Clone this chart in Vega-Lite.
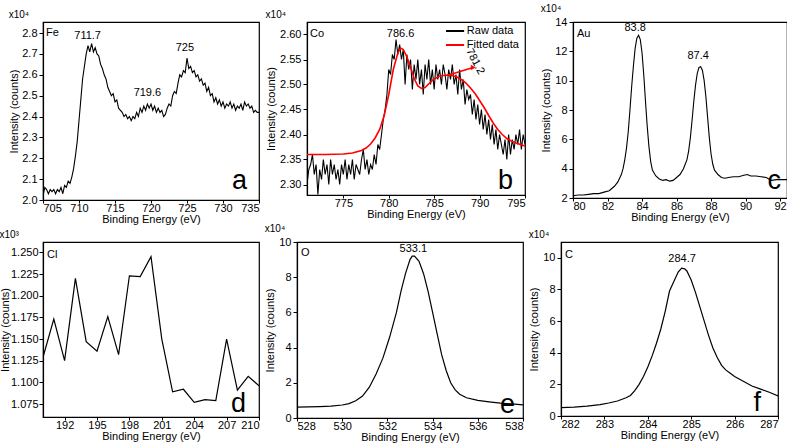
{
"$schema":"https://vega.github.io/schema/vega-lite/v6.json",
"autosize":{"type":"pad"},
"padding":{"left":-2,"top":3,"right":0,"bottom":0},
"background":"white",
"config":{
 "font":"Liberation Sans",
 "view":{"stroke":"black","strokeWidth":1.2},
 "axis":{"grid":false,"labelOverlap":false,"tickCount":30,"domainColor":"black","domainWidth":1.2,"tickColor":"black","tickSize":4,"labelColor":"black","titleColor":"black","labelFont":"Liberation Sans","titleFont":"Liberation Sans","labelFontSize":11,"titleFontSize":11,"titleFontWeight":"normal","labelPadding":2,"titlePadding":3},
 "axisX":{"tickSize":3,"labelPadding":-1,"titlePadding":0},
 "title":{"fontSize":10,"fontWeight":"normal","anchor":"start","font":"Liberation Sans","offset":2,"color":"black"},
 "text":{"font":"Liberation Sans","color":"black"}
},
"datasets":{
"fe":[{"x":705.00,"y":2.02},{"x":705.25,"y":2.06},{"x":705.5,"y":2.05},{"x":705.75,"y":2.03},{"x":706,"y":2.05},{"x":706.25,"y":2.04},{"x":706.5,"y":2.05},{"x":706.75,"y":2.03},{"x":707,"y":2.05},{"x":707.25,"y":2.04},{"x":707.5,"y":2.06},{"x":707.75,"y":2.03},{"x":708,"y":2.07},{"x":708.25,"y":2.06},{"x":708.5,"y":2.09},{"x":708.75,"y":2.08},{"x":709,"y":2.11},{"x":709.25,"y":2.15},{"x":709.5,"y":2.21},{"x":709.75,"y":2.28},{"x":710,"y":2.38},{"x":710.25,"y":2.48},{"x":710.5,"y":2.58},{"x":710.75,"y":2.64},{"x":711,"y":2.70},{"x":711.25,"y":2.74},{"x":711.5,"y":2.71},{"x":711.75,"y":2.75},{"x":712,"y":2.71},{"x":712.25,"y":2.73},{"x":712.5,"y":2.70},{"x":712.75,"y":2.69},{"x":713,"y":2.65},{"x":713.25,"y":2.63},{"x":713.5,"y":2.60},{"x":713.75,"y":2.58},{"x":714,"y":2.54},{"x":714.25,"y":2.52},{"x":714.5,"y":2.50},{"x":714.75,"y":2.51},{"x":715,"y":2.47},{"x":715.25,"y":2.48},{"x":715.5,"y":2.44},{"x":715.75,"y":2.43},{"x":716,"y":2.42},{"x":716.25,"y":2.40},{"x":716.5,"y":2.41},{"x":716.75,"y":2.39},{"x":717,"y":2.40},{"x":717.25,"y":2.38},{"x":717.5,"y":2.40},{"x":717.75,"y":2.39},{"x":718,"y":2.42},{"x":718.25,"y":2.40},{"x":718.5,"y":2.44},{"x":718.75,"y":2.42},{"x":719,"y":2.45},{"x":719.25,"y":2.43},{"x":719.5,"y":2.46},{"x":719.75,"y":2.44},{"x":720,"y":2.46},{"x":720.25,"y":2.43},{"x":720.5,"y":2.45},{"x":720.75,"y":2.42},{"x":721,"y":2.44},{"x":721.25,"y":2.42},{"x":721.5,"y":2.43},{"x":721.75,"y":2.40},{"x":722,"y":2.41},{"x":722.25,"y":2.44},{"x":722.5,"y":2.46},{"x":722.75,"y":2.45},{"x":723,"y":2.50},{"x":723.25,"y":2.52},{"x":723.5,"y":2.51},{"x":723.75,"y":2.56},{"x":724,"y":2.60},{"x":724.25,"y":2.59},{"x":724.5,"y":2.62},{"x":724.75,"y":2.61},{"x":725,"y":2.68},{"x":725.25,"y":2.63},{"x":725.5,"y":2.64},{"x":725.75,"y":2.61},{"x":726,"y":2.62},{"x":726.25,"y":2.59},{"x":726.5,"y":2.60},{"x":726.75,"y":2.57},{"x":727,"y":2.58},{"x":727.25,"y":2.55},{"x":727.5,"y":2.56},{"x":727.75,"y":2.52},{"x":728,"y":2.54},{"x":728.25,"y":2.50},{"x":728.5,"y":2.51},{"x":728.75,"y":2.47},{"x":729,"y":2.49},{"x":729.25,"y":2.46},{"x":729.5,"y":2.48},{"x":729.75,"y":2.45},{"x":730,"y":2.47},{"x":730.25,"y":2.44},{"x":730.5,"y":2.46},{"x":730.75,"y":2.45},{"x":731,"y":2.47},{"x":731.25,"y":2.44},{"x":731.5,"y":2.46},{"x":731.75,"y":2.43},{"x":732,"y":2.45},{"x":732.25,"y":2.44},{"x":732.5,"y":2.46},{"x":732.75,"y":2.43},{"x":733,"y":2.47},{"x":733.25,"y":2.45},{"x":733.5,"y":2.46},{"x":733.75,"y":2.44},{"x":734,"y":2.45},{"x":734.25,"y":2.42},{"x":734.5,"y":2.43},{"x":734.75,"y":2.42},{"x":735,"y":2.42}],
"coraw":[{"x":771.0,"y":2.30},{"x":771.2,"y":2.33},{"x":771.4,"y":2.34},{"x":771.6,"y":2.36},{"x":771.8,"y":2.32},{"x":772.0,"y":2.34},{"x":772.2,"y":2.28},{"x":772.4,"y":2.33},{"x":772.6,"y":2.31},{"x":772.8,"y":2.35},{"x":773.0,"y":2.32},{"x":773.2,"y":2.34},{"x":773.4,"y":2.30},{"x":773.6,"y":2.35},{"x":773.8,"y":2.32},{"x":774.0,"y":2.34},{"x":774.2,"y":2.31},{"x":774.4,"y":2.33},{"x":774.6,"y":2.30},{"x":774.8,"y":2.34},{"x":775.0,"y":2.32},{"x":775.2,"y":2.35},{"x":775.4,"y":2.31},{"x":775.6,"y":2.34},{"x":775.8,"y":2.32},{"x":776.0,"y":2.35},{"x":776.2,"y":2.31},{"x":776.4,"y":2.34},{"x":776.6,"y":2.33},{"x":776.8,"y":2.32},{"x":777.0,"y":2.35},{"x":777.2,"y":2.37},{"x":777.4,"y":2.33},{"x":777.6,"y":2.35},{"x":777.8,"y":2.32},{"x":778.0,"y":2.34},{"x":778.2,"y":2.33},{"x":778.4,"y":2.36},{"x":778.6,"y":2.34},{"x":778.8,"y":2.38},{"x":779.0,"y":2.37},{"x":779.2,"y":2.40},{"x":779.4,"y":2.43},{"x":779.6,"y":2.45},{"x":779.8,"y":2.48},{"x":780.0,"y":2.53},{"x":780.2,"y":2.52},{"x":780.4,"y":2.56},{"x":780.6,"y":2.55},{"x":780.8,"y":2.59},{"x":781.0,"y":2.56},{"x":781.2,"y":2.58},{"x":781.4,"y":2.55},{"x":781.6,"y":2.57},{"x":781.8,"y":2.50},{"x":782.0,"y":2.56},{"x":782.2,"y":2.53},{"x":782.4,"y":2.55},{"x":782.6,"y":2.49},{"x":782.8,"y":2.54},{"x":783.0,"y":2.51},{"x":783.2,"y":2.55},{"x":783.4,"y":2.50},{"x":783.6,"y":2.53},{"x":783.8,"y":2.48},{"x":784.0,"y":2.54},{"x":784.2,"y":2.51},{"x":784.4,"y":2.55},{"x":784.6,"y":2.50},{"x":784.8,"y":2.53},{"x":785.0,"y":2.49},{"x":785.2,"y":2.54},{"x":785.4,"y":2.51},{"x":785.6,"y":2.53},{"x":785.8,"y":2.50},{"x":786.0,"y":2.54},{"x":786.2,"y":2.52},{"x":786.4,"y":2.49},{"x":786.6,"y":2.53},{"x":786.8,"y":2.51},{"x":787.0,"y":2.54},{"x":787.2,"y":2.50},{"x":787.4,"y":2.52},{"x":787.6,"y":2.48},{"x":787.8,"y":2.53},{"x":788.0,"y":2.49},{"x":788.2,"y":2.51},{"x":788.4,"y":2.46},{"x":788.6,"y":2.49},{"x":788.8,"y":2.47},{"x":789.0,"y":2.48},{"x":789.2,"y":2.44},{"x":789.4,"y":2.47},{"x":789.6,"y":2.43},{"x":789.8,"y":2.46},{"x":790.0,"y":2.42},{"x":790.2,"y":2.45},{"x":790.4,"y":2.41},{"x":790.6,"y":2.44},{"x":790.8,"y":2.40},{"x":791.0,"y":2.43},{"x":791.2,"y":2.39},{"x":791.4,"y":2.42},{"x":791.6,"y":2.38},{"x":791.8,"y":2.41},{"x":792.0,"y":2.37},{"x":792.2,"y":2.40},{"x":792.4,"y":2.38},{"x":792.6,"y":2.36},{"x":792.8,"y":2.39},{"x":793.0,"y":2.35},{"x":793.2,"y":2.40},{"x":793.4,"y":2.36},{"x":793.6,"y":2.39},{"x":793.8,"y":2.37},{"x":794.0,"y":2.40},{"x":794.2,"y":2.38},{"x":794.4,"y":2.41},{"x":794.6,"y":2.37},{"x":794.8,"y":2.40},{"x":795.0,"y":2.38}],
"cofit":[{"x":771,"y":2.360},{"x":773,"y":2.360},{"x":775,"y":2.361},{"x":776,"y":2.363},{"x":777,"y":2.368},{"x":777.5,"y":2.373},{"x":778,"y":2.381},{"x":778.5,"y":2.393},{"x":779,"y":2.410},{"x":779.5,"y":2.438},{"x":780,"y":2.480},{"x":780.5,"y":2.530},{"x":781,"y":2.563},{"x":781.3,"y":2.573},{"x":781.6,"y":2.570},{"x":782,"y":2.555},{"x":782.4,"y":2.535},{"x":782.8,"y":2.512},{"x":783.2,"y":2.497},{"x":783.6,"y":2.492},{"x":784,"y":2.494},{"x":784.5,"y":2.503},{"x":785,"y":2.511},{"x":785.5,"y":2.516},{"x":786,"y":2.518},{"x":786.5,"y":2.519},{"x":787,"y":2.518},{"x":787.5,"y":2.515},{"x":788,"y":2.510},{"x":788.5,"y":2.503},{"x":789,"y":2.493},{"x":789.5,"y":2.482},{"x":790,"y":2.468},{"x":790.5,"y":2.454},{"x":791,"y":2.438},{"x":791.5,"y":2.423},{"x":792,"y":2.410},{"x":792.5,"y":2.400},{"x":793,"y":2.392},{"x":793.5,"y":2.387},{"x":794,"y":2.383},{"x":794.5,"y":2.380},{"x":795,"y":2.377}],
"au":[{"x":80.0,"y":2.15},{"x":80.3,"y":2.2},{"x":80.6,"y":2.2},{"x":80.9,"y":2.25},{"x":81.2,"y":2.3},{"x":81.5,"y":2.3},{"x":81.8,"y":2.4},{"x":82.1,"y":2.5},{"x":82.4,"y":2.8},{"x":82.6,"y":3.1},{"x":82.8,"y":3.6},{"x":82.9,"y":4.0},{"x":83.0,"y":4.6},{"x":83.1,"y":5.4},{"x":83.2,"y":6.5},{"x":83.3,"y":8.0},{"x":83.4,"y":9.6},{"x":83.5,"y":11.0},{"x":83.6,"y":12.2},{"x":83.7,"y":12.9},{"x":83.8,"y":13.1},{"x":83.9,"y":12.8},{"x":84.0,"y":11.9},{"x":84.1,"y":10.4},{"x":84.2,"y":8.6},{"x":84.3,"y":6.9},{"x":84.4,"y":5.5},{"x":84.5,"y":4.5},{"x":84.6,"y":3.9},{"x":84.8,"y":3.5},{"x":85.0,"y":3.3},{"x":85.2,"y":3.2},{"x":85.4,"y":3.25},{"x":85.6,"y":3.15},{"x":85.8,"y":3.2},{"x":86.0,"y":3.4},{"x":86.2,"y":3.6},{"x":86.4,"y":4.0},{"x":86.5,"y":4.3},{"x":86.6,"y":4.6},{"x":86.7,"y":5.2},{"x":86.8,"y":6.1},{"x":86.9,"y":7.3},{"x":87.0,"y":8.6},{"x":87.1,"y":9.7},{"x":87.2,"y":10.5},{"x":87.3,"y":10.9},{"x":87.4,"y":10.95},{"x":87.5,"y":10.7},{"x":87.6,"y":10.0},{"x":87.7,"y":8.9},{"x":87.8,"y":7.5},{"x":87.9,"y":6.1},{"x":88.0,"y":5.0},{"x":88.1,"y":4.3},{"x":88.2,"y":3.9},{"x":88.4,"y":3.6},{"x":88.6,"y":3.4},{"x":88.8,"y":3.35},{"x":89.0,"y":3.4},{"x":89.3,"y":3.45},{"x":89.6,"y":3.45},{"x":89.9,"y":3.55},{"x":90.1,"y":3.6},{"x":90.3,"y":3.5},{"x":90.6,"y":3.5},{"x":90.9,"y":3.45},{"x":91.2,"y":3.4},{"x":91.5,"y":3.2},{"x":91.8,"y":3.25},{"x":92.1,"y":3.25},{"x":92.4,"y":3.25}],
"cl":[{"x":190,"y":1.129},{"x":191,"y":1.173},{"x":192,"y":1.125},{"x":193,"y":1.220},{"x":194,"y":1.147},{"x":195,"y":1.136},{"x":196,"y":1.176},{"x":197,"y":1.132},{"x":198,"y":1.223},{"x":199,"y":1.222},{"x":200,"y":1.245},{"x":201,"y":1.150},{"x":202,"y":1.089},{"x":203,"y":1.092},{"x":204,"y":1.077},{"x":205,"y":1.080},{"x":206,"y":1.079},{"x":207,"y":1.150},{"x":208,"y":1.091},{"x":209,"y":1.107},{"x":210,"y":1.096}],
"o":[{"x":528.0,"y":0.62},{"x":528.5,"y":0.63},{"x":529.0,"y":0.65},{"x":529.5,"y":0.68},{"x":530.0,"y":0.74},{"x":530.3,"y":0.82},{"x":530.6,"y":0.98},{"x":530.9,"y":1.25},{"x":531.2,"y":1.75},{"x":531.5,"y":2.5},{"x":531.8,"y":3.4},{"x":532.1,"y":4.6},{"x":532.4,"y":6.0},{"x":532.6,"y":7.2},{"x":532.8,"y":8.2},{"x":533.0,"y":9.0},{"x":533.1,"y":9.2},{"x":533.2,"y":9.2},{"x":533.4,"y":8.9},{"x":533.6,"y":8.2},{"x":533.8,"y":7.2},{"x":534.0,"y":6.0},{"x":534.2,"y":4.8},{"x":534.4,"y":3.6},{"x":534.6,"y":2.7},{"x":534.8,"y":2.0},{"x":535.0,"y":1.6},{"x":535.2,"y":1.35},{"x":535.5,"y":1.15},{"x":536.0,"y":1.0},{"x":536.5,"y":0.92},{"x":537.0,"y":0.85},{"x":537.5,"y":0.8},{"x":538.0,"y":0.75}],
"c":[{"x":282.0,"y":0.53},{"x":282.3,"y":0.56},{"x":282.6,"y":0.62},{"x":282.9,"y":0.72},{"x":283.1,"y":0.82},{"x":283.3,"y":0.95},{"x":283.5,"y":1.15},{"x":283.6,"y":1.3},{"x":283.7,"y":1.6},{"x":283.8,"y":2.0},{"x":283.9,"y":2.5},{"x":284.0,"y":3.1},{"x":284.1,"y":3.8},{"x":284.2,"y":4.6},{"x":284.3,"y":5.5},{"x":284.4,"y":6.6},{"x":284.5,"y":7.9},{"x":284.6,"y":8.5},{"x":284.7,"y":9.1},{"x":284.78,"y":9.35},{"x":284.85,"y":9.3},{"x":284.9,"y":9.17},{"x":285.0,"y":8.6},{"x":285.1,"y":7.8},{"x":285.2,"y":6.9},{"x":285.3,"y":6.0},{"x":285.4,"y":5.1},{"x":285.5,"y":4.3},{"x":285.6,"y":3.7},{"x":285.7,"y":3.2},{"x":285.8,"y":2.9},{"x":285.9,"y":2.7},{"x":286.0,"y":2.5},{"x":286.2,"y":2.2},{"x":286.4,"y":1.9},{"x":286.6,"y":1.7},{"x":286.8,"y":1.5},{"x":287.0,"y":1.27}]
},
"columns":1,
"align":"none",
"spacing":-2,
"concat":[
 {"bounds":"flush","spacing":48,"hconcat":[
  {"width":216,"height":178,"title":"x10⁴",
   "layer":[
    {"data":{"name":"fe"},"mark":{"type":"line","color":"black","strokeWidth":1.1,"clip":true},
     "encoding":{"x":{"field":"x","type":"quantitative","scale":{"domain":[705,735],"nice":false,"zero":false},"axis":{"values":[705,710,715,720,725,730,735],"format":"d","title":"Binding Energy (eV)"}},
                 "y":{"field":"y","type":"quantitative","scale":{"domain":[2.0,2.853],"nice":false,"zero":false},"axis":{"values":[2.0,2.1,2.2,2.3,2.4,2.5,2.6,2.7,2.8],"format":".1f","title":"Intensity (counts)","titlePadding":2}}}},
    {"data":{"values":[{"x":711.2,"y":2.756,"t":"711.7"},{"x":719.5,"y":2.483,"t":"719.6"},{"x":724.7,"y":2.70,"t":"725"}]},
     "mark":{"type":"text","baseline":"bottom","fontSize":11,"dy":-1},
     "encoding":{"x":{"field":"x","type":"quantitative"},"y":{"field":"y","type":"quantitative"},"text":{"field":"t"}}},
    {"data":{"values":[{}]},"mark":{"type":"text","align":"left","baseline":"top","fontSize":11,"dx":3,"dy":5},
     "encoding":{"x":{"datum":705},"y":{"datum":2.853},"text":{"value":"Fe"}}},
    {"data":{"values":[{}]},"mark":{"type":"text","align":"right","baseline":"alphabetic","fontSize":27,"dx":-12,"dy":-11},
     "encoding":{"x":{"datum":735},"y":{"datum":2.0},"text":{"value":"a"}}}
   ]},
  {"width":218,"height":173,"title":"x10⁴",
   "layer":[
    {"data":{"name":"coraw"},"mark":{"type":"line","color":"black","strokeWidth":1.1,"clip":true},
     "encoding":{"x":{"field":"x","type":"quantitative","scale":{"domain":[771,795],"nice":false,"zero":false},"axis":{"values":[775,780,785,790,795],"format":"d","title":"Binding Energy (eV)"}},
                 "y":{"field":"y","type":"quantitative","scale":{"domain":[2.279,2.625],"nice":false,"zero":false},"axis":{"values":[2.30,2.35,2.40,2.45,2.50,2.55,2.60],"format":".2f","title":"Intensity (counts)"}}}},
    {"data":{"name":"cofit"},"mark":{"type":"line","color":"red","strokeWidth":1.6,"clip":true},
     "encoding":{"x":{"field":"x","type":"quantitative"},"y":{"field":"y","type":"quantitative"}}},
    {"data":{"values":[{"x1":786.3,"x2":788.3,"y":2.607,"c":"black"},{"x1":786.3,"x2":788.3,"y":2.579,"c":"red"}]},"mark":{"type":"rule","strokeWidth":2},
     "encoding":{"x":{"field":"x1","type":"quantitative"},"x2":{"field":"x2"},"y":{"field":"y","type":"quantitative"},"color":{"field":"c","type":"nominal","scale":null}}},
    {"data":{"values":[{"x":788.6,"y":2.607,"t":"Raw data"},{"x":788.6,"y":2.579,"t":"Fitted data"}]},"mark":{"type":"text","align":"left","baseline":"middle","fontSize":11},
     "encoding":{"x":{"field":"x","type":"quantitative"},"y":{"field":"y","type":"quantitative"},"text":{"field":"t"}}},
    {"data":{"values":[{"x1":786.6,"y1":2.519,"x2":789.1,"y2":2.533}]},"mark":{"type":"rule","color":"red","strokeWidth":1.4},
     "encoding":{"x":{"field":"x1","type":"quantitative"},"y":{"field":"y1","type":"quantitative"},"x2":{"field":"x2"},"y2":{"field":"y2"}}},
    {"data":{"values":[{"x":789.3,"y":2.534}]},"mark":{"type":"point","shape":"triangle-right","filled":true,"color":"red","size":30,"opacity":1},
     "encoding":{"x":{"field":"x","type":"quantitative"},"y":{"field":"y","type":"quantitative"}}},
    {"data":{"values":[{"x":789.5,"y":2.546,"t":"781.2"}]},"mark":{"type":"text","angle":62,"fontSize":11,"align":"center","baseline":"middle"},
     "encoding":{"x":{"field":"x","type":"quantitative"},"y":{"field":"y","type":"quantitative"},"text":{"field":"t"}}},
    {"data":{"values":[{"x":781.3,"y":2.589,"t":"786.6"}]},"mark":{"type":"text","baseline":"bottom","fontSize":11,"dy":-1},
     "encoding":{"x":{"field":"x","type":"quantitative"},"y":{"field":"y","type":"quantitative"},"text":{"field":"t"}}},
    {"data":{"values":[{}]},"mark":{"type":"text","align":"left","baseline":"top","fontSize":11,"dx":3,"dy":6},
     "encoding":{"x":{"datum":771},"y":{"datum":2.625},"text":{"value":"Co"}}},
    {"data":{"values":[{}]},"mark":{"type":"text","align":"right","baseline":"alphabetic","fontSize":27,"dx":-12,"dy":-6},
     "encoding":{"x":{"datum":795},"y":{"datum":2.279},"text":{"value":"b"}}}
   ]},
  {"width":214,"height":176,"title":"x10⁴",
   "layer":[
    {"data":{"name":"au"},"mark":{"type":"line","color":"black","strokeWidth":1.1,"clip":true},
     "encoding":{"x":{"field":"x","type":"quantitative","scale":{"domain":[80,92.4],"nice":false,"zero":false},"axis":{"values":[80,82,84,86,88,90,92],"format":"d","title":"Binding Energy (eV)"}},
                 "y":{"field":"y","type":"quantitative","scale":{"domain":[2,14],"nice":false,"zero":false},"axis":{"values":[2,4,6,8,10,12,14],"format":"d","title":"Intensity (counts)"}}}},
    {"data":{"values":[{"x":83.6,"y":13.2,"t":"83.8"},{"x":87.25,"y":11.27,"t":"87.4"}]},
     "mark":{"type":"text","baseline":"bottom","fontSize":11,"dy":-1},
     "encoding":{"x":{"field":"x","type":"quantitative"},"y":{"field":"y","type":"quantitative"},"text":{"field":"t"}}},
    {"data":{"values":[{}]},"mark":{"type":"text","align":"left","baseline":"top","fontSize":11,"dx":4,"dy":6},
     "encoding":{"x":{"datum":80},"y":{"datum":14},"text":{"value":"Au"}}},
    {"data":{"values":[{}]},"mark":{"type":"text","align":"right","baseline":"alphabetic","fontSize":27,"dx":-6,"dy":-9},
     "encoding":{"x":{"datum":92.4},"y":{"datum":2},"text":{"value":"c"}}}
   ]}
 ]},
 {"bounds":"flush","spacing":38,"hconcat":[
  {"width":216,"height":175,"title":"x10³",
   "layer":[
    {"data":{"name":"cl"},"mark":{"type":"line","color":"black","strokeWidth":1.2,"clip":true},
     "encoding":{"x":{"field":"x","type":"quantitative","scale":{"domain":[190,210],"nice":false,"zero":false},"axis":{"values":[192,195,198,201,204,207,210],"format":"d","title":"Binding Energy (eV)"}},
                 "y":{"field":"y","type":"quantitative","scale":{"domain":[1.06,1.262],"nice":false,"zero":false},"axis":{"values":[1.075,1.1,1.125,1.15,1.175,1.2,1.225,1.25],"format":".3f","title":"Intensity (counts)","titlePadding":0,"labelPadding":1}}}},
    {"data":{"values":[{}]},"mark":{"type":"text","align":"left","baseline":"top","fontSize":11,"dx":4,"dy":7},
     "encoding":{"x":{"datum":190},"y":{"datum":1.262},"text":{"value":"Cl"}}},
    {"data":{"values":[{}]},"mark":{"type":"text","align":"right","baseline":"alphabetic","fontSize":27,"dx":-13,"dy":-5},
     "encoding":{"x":{"datum":210},"y":{"datum":1.06},"text":{"value":"d"}}}
   ]},
  {"width":226,"height":176,"title":"x10⁴",
   "layer":[
    {"data":{"name":"o"},"mark":{"type":"line","color":"black","strokeWidth":1.2,"clip":true},
     "encoding":{"x":{"field":"x","type":"quantitative","scale":{"domain":[528,538],"nice":false,"zero":false},"axis":{"values":[528,530,532,534,536,538],"format":"d","title":"Binding Energy (eV)"}},
                 "y":{"field":"y","type":"quantitative","scale":{"domain":[0,10],"nice":false,"zero":false},"axis":{"values":[0,2,4,6,8,10],"format":"d","title":"Intensity (counts)"}}}},
    {"data":{"values":[{"x":533.15,"y":9.28,"t":"533.1"}]},"mark":{"type":"text","baseline":"bottom","fontSize":11,"dy":-1},
     "encoding":{"x":{"field":"x","type":"quantitative"},"y":{"field":"y","type":"quantitative"},"text":{"field":"t"}}},
    {"data":{"values":[{}]},"mark":{"type":"text","align":"left","baseline":"top","fontSize":11,"dx":4,"dy":5},
     "encoding":{"x":{"datum":528},"y":{"datum":10},"text":{"value":"O"}}},
    {"data":{"values":[{}]},"mark":{"type":"text","align":"right","baseline":"alphabetic","fontSize":27,"dx":-8,"dy":-5},
     "encoding":{"x":{"datum":538},"y":{"datum":0},"text":{"value":"e"}}}
   ]},
  {"width":217,"height":174,"title":"x10⁴",
   "layer":[
    {"data":{"name":"c"},"mark":{"type":"line","color":"black","strokeWidth":1.2,"clip":true},
     "encoding":{"x":{"field":"x","type":"quantitative","scale":{"domain":[282,287],"nice":false,"zero":false},"axis":{"values":[282,283,284,285,286,287],"format":"d","title":"Binding Energy (eV)"}},
                 "y":{"field":"y","type":"quantitative","scale":{"domain":[0,11],"nice":false,"zero":false},"axis":{"values":[0,2,4,6,8,10],"format":"d","title":"Intensity (counts)"}}}},
    {"data":{"values":[{"x":284.79,"y":9.55,"t":"284.7"}]},"mark":{"type":"text","baseline":"bottom","fontSize":11,"dy":-1},
     "encoding":{"x":{"field":"x","type":"quantitative"},"y":{"field":"y","type":"quantitative"},"text":{"field":"t"}}},
    {"data":{"values":[{}]},"mark":{"type":"text","align":"left","baseline":"top","fontSize":11,"dx":4,"dy":7},
     "encoding":{"x":{"datum":282},"y":{"datum":11},"text":{"value":"C"}}},
    {"data":{"values":[{}]},"mark":{"type":"text","align":"right","baseline":"alphabetic","fontSize":27,"dx":-17,"dy":-5},
     "encoding":{"x":{"datum":287},"y":{"datum":0},"text":{"value":"f"}}}
   ]}
 ]}
]
}
